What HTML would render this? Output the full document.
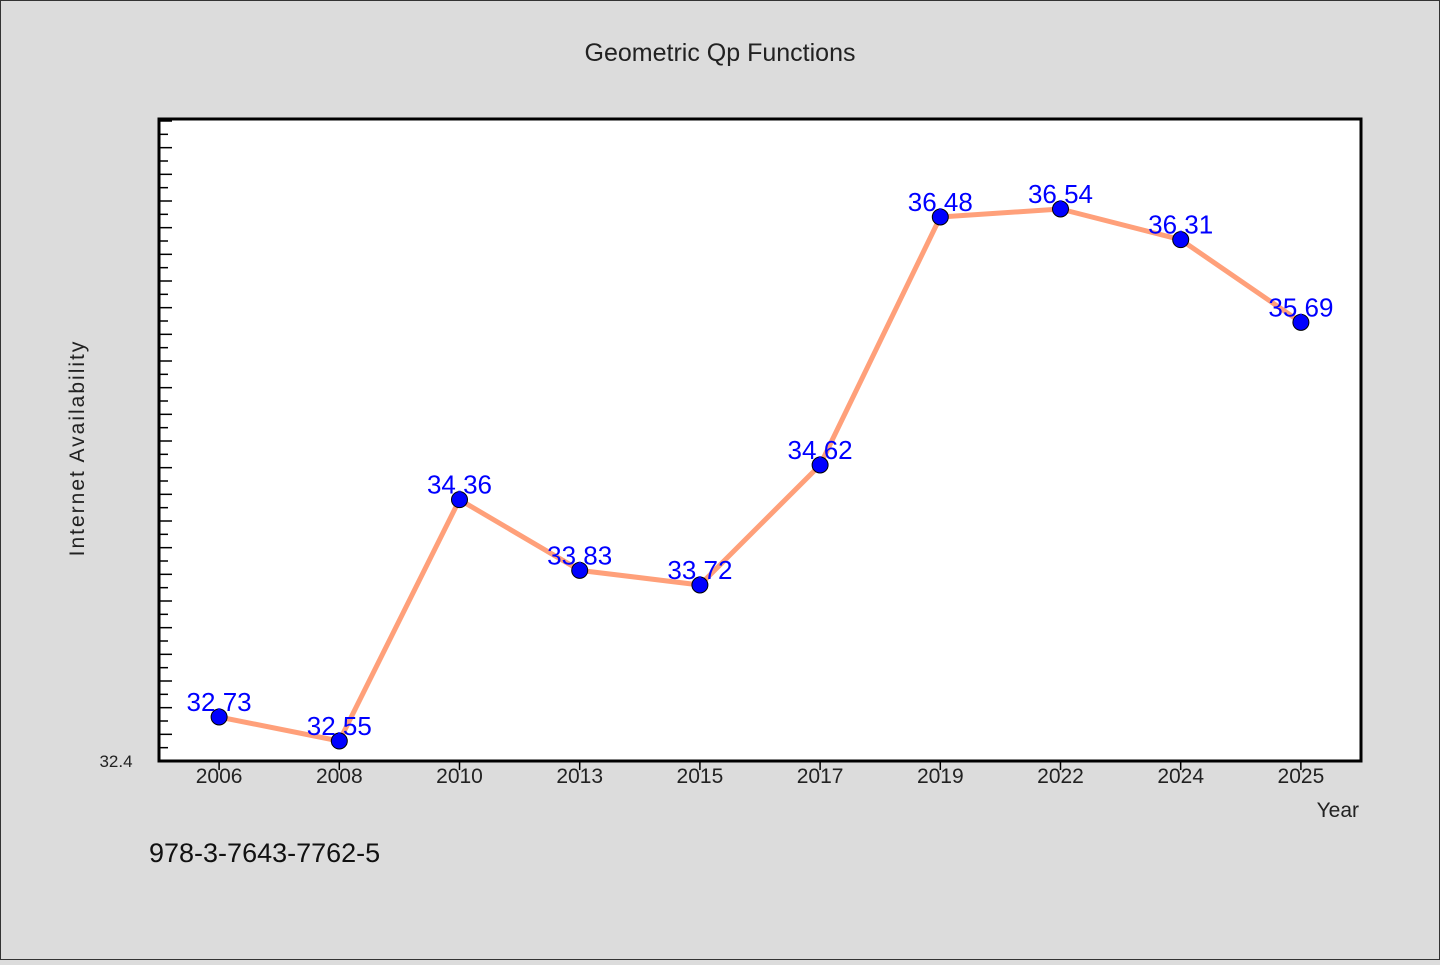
<!DOCTYPE html>
<html><head><meta charset="utf-8"><style>
body{margin:0;background:#dcdcdc;}
svg text{font-family:"WenQuanYi Zen Hei","Liberation Sans",sans-serif;}
</style></head><body>
<svg width="1440" height="960">
<rect x="0.5" y="0.5" width="1439" height="959" fill="#dcdcdc" stroke="#333"/>
<text x="720" y="61" text-anchor="middle" font-size="25" fill="#222">Geometric Qp Functions</text>
<rect x="159" y="119" width="1202" height="642" fill="#fff"/>
<g id="ticks"></g>
<g id="xt"></g>
<polyline id="line" fill="none" stroke="#ffa07a" stroke-width="5" stroke-linejoin="round"/>
<g id="pts"></g>
<path d="M159,119V761H1361V119Z" fill="none" stroke="#000" stroke-width="3"/>
<text x="116" y="767" font-size="17" fill="#222" text-anchor="middle">32.4</text>
<text transform="translate(84,448) rotate(-90)" text-anchor="middle" font-size="21" fill="#222" letter-spacing="2">Internet Availability</text>
<text x="1359" y="817" text-anchor="end" font-size="21" fill="#222">Year</text>
<text x="149" y="862" font-size="27" fill="#111">978-3-7643-7762-5</text>
</svg>
<script>
const categories=["2006","2008","2010","2013","2015","2017","2019","2022","2024","2025"];
const values=[32.73,32.55,34.36,33.83,33.72,34.62,36.48,36.54,36.31,35.69];
const yMin=32.4,yMax=37.215;
const NS="http://www.w3.org/2000/svg";
const L=159,R=1361,T=119,B=761;
const bw=(R-L)/categories.length;
const xs=i=>L+bw*(i+0.5);
const ys=v=>B-(v-yMin)/(yMax-yMin)*(B-T);
function mk(t,a,p){const e=document.createElementNS(NS,t);for(const k in a)e.setAttribute(k,a[k]);p.appendChild(e);return e;}
const tg=document.getElementById('ticks');
for(let k=1;;k++){const v=yMin+k*0.1;if(v>yMax)break;const y=ys(v);
const e=mk('line',{x1:L,x2:L+(k%2===0?13:9),y1:y,y2:y,stroke:'#000','stroke-width':1.5},tg);
}
const xg=document.getElementById('xt');
categories.forEach((c,i)=>{const x=xs(i);
const t=mk('line',{x1:x,x2:x,y1:B,y2:B+9,stroke:'#000','stroke-width':1.5},xg);

const l=mk('text',{x:x,y:783,'text-anchor':'middle','font-size':21,fill:'#222'},xg);l.textContent=c;
});
document.getElementById('line').setAttribute('points',values.map((v,i)=>xs(i)+','+ys(v)).join(' '));
const pg=document.getElementById('pts');
values.forEach((v,i)=>{const x=xs(i),y=ys(v);
const c=mk('circle',{cx:x,cy:y,r:8,fill:'#0000ff',stroke:'#000','stroke-width':1},pg);

const t=mk('text',{x:x,y:y-6,'text-anchor':'middle','font-size':26,fill:'#0000ff'},pg);t.textContent=v.toFixed(2);
});
</script>
</body></html>
